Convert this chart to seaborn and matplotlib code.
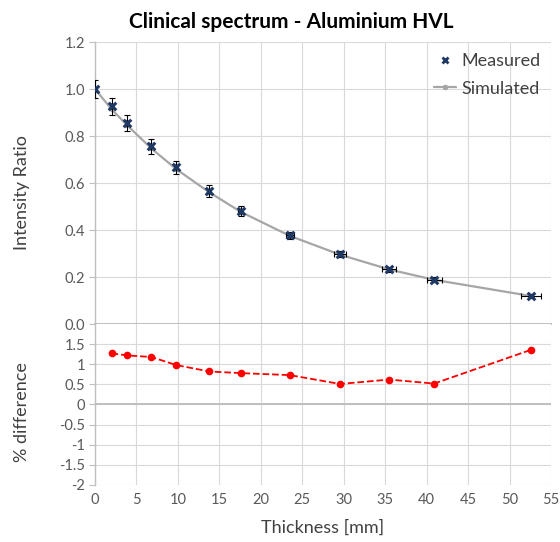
import matplotlib
matplotlib.use("Agg")
import matplotlib.pyplot as plt
import seaborn as sns
import pandas as pd
from matplotlib.lines import Line2D

# data
thickness = [0, 2.0, 3.9, 6.8, 9.8, 13.8, 17.6, 23.5, 29.55, 35.5, 40.9, 52.6]
measured = [1.0, 0.926, 0.855, 0.756, 0.666, 0.565, 0.481, 0.378, 0.297, 0.233, 0.189, 0.121]
meas_yerr = [0.038, 0.037, 0.035, 0.031, 0.027, 0.025, 0.021, 0.015, 0.012, 0.010, 0.009, 0.008]
meas_xerr = [0.1, 0.1, 0.1, 0.15, 0.2, 0.25, 0.3, 0.45, 0.7, 0.85, 0.9, 1.2]
simulated = [1.0, 0.914, 0.845, 0.747, 0.659, 0.560, 0.477, 0.375, 0.295, 0.232, 0.188, 0.119]

diff_thickness = [2.0, 3.9, 6.8, 9.8, 13.8, 17.6, 23.5, 29.55, 35.5, 40.9, 52.6]
pct_diff = [1.27, 1.22, 1.18, 0.98, 0.82, 0.78, 0.73, 0.51, 0.62, 0.52, 1.36]

top_ticks = [0.0, 0.2, 0.4, 0.6, 0.8, 1.0, 1.2]
bottom_ticks = [-2, -1.5, -1, -0.5, 0, 0.5, 1, 1.5]
x_ticks = [0, 5, 10, 15, 20, 25, 30, 35, 40, 45, 50, 55]

df = pd.DataFrame({"thickness": thickness, "measured": measured, "simulated": simulated})
dd = pd.DataFrame({"thickness": diff_thickness, "diff": pct_diff})

sns.set_style("whitegrid")
plt.rcParams["font.family"] = ["Lato", "DejaVu Sans"]

grid_c = "#d9d9d9"
axis_c = "#bfbfbf"
text_c = "#595959"
label_c = "#404040"
navy = "#1f3864"

fig = plt.figure(figsize=(5.6, 5.42), dpi=100)
ax1 = fig.add_axes([0.1696, 0.4022, 0.8144, 0.5203])
ax2 = fig.add_axes([0.1696, 0.1052, 0.8144, 0.2970], sharex=ax1)

# -----------------------------
# top panel: intensity ratio
# -----------------------------
sns.lineplot(data=df, x="thickness", y="simulated", ax=ax1, color="#a6a6a6",
             lw=1.6, marker="o", markersize=4, markeredgewidth=0, zorder=2)
ax1.errorbar(thickness, measured, yerr=meas_yerr, xerr=meas_xerr, fmt="none",
             ecolor="black", elinewidth=0.8, capsize=2, capthick=0.8, zorder=3)
sns.scatterplot(data=df, x="thickness", y="measured", ax=ax1, marker="x",
                color=navy, s=30, linewidth=2.2, zorder=4)

ax1.set_ylim(0, 1.2)
ax1.set_yticks(top_ticks)
ax1.set_yticklabels([f"{t:.1f}" for t in top_ticks])
ax1.set_xlim(0, 55)
ax1.set_xticks(x_ticks)
ax1.tick_params(axis="x", labelbottom=False, length=0)
ax1.set_xlabel("")
ax1.set_ylabel("Intensity Ratio", fontsize=13, color=label_c)
ax1.yaxis.set_label_coords(-0.142, 0.465)

fig.text(0.52, 0.960, "Clinical spectrum - Aluminium HVL", fontsize=15,
         fontweight="bold", color="black", ha="center", va="center")

handles = [
    Line2D([], [], color=navy, marker="x", linestyle="none", markersize=5, markeredgewidth=2),
    Line2D([], [], color="#a6a6a6", marker="o", markersize=4, lw=1.6, markeredgewidth=0),
]
ax1.legend(handles, ["Measured", "Simulated"], loc="upper right", frameon=False,
           fontsize=13, handlelength=1.2, handletextpad=0.3, labelspacing=0.65,
           borderaxespad=0.2, labelcolor=label_c)

# -----------------------------
# bottom panel: % difference
# -----------------------------
sns.lineplot(data=dd, x="thickness", y="diff", ax=ax2, color="#ff0000", lw=1.3,
             linestyle="--", marker="o", markersize=5.5, markeredgewidth=0, zorder=3)
ax2.axhline(0, color=axis_c, lw=1.4, zorder=1)
ax2.set_ylim(-2, 2)
ax2.set_yticks(bottom_ticks)
ax2.set_yticklabels([f"{t:g}" for t in bottom_ticks])
ax2.set_xticks(x_ticks)
ax2.set_xlabel("Thickness [mm]", fontsize=13, color=label_c, labelpad=9)
ax2.set_ylabel("% difference", fontsize=13, color=label_c)
ax2.yaxis.set_label_coords(-0.142, 0.45)
ax2.tick_params(axis="x", length=0, pad=6)

for ax in (ax1, ax2):
    ax.grid(True, color=grid_c, lw=0.8)
    for s in ("top", "right", "bottom"):
        ax.spines[s].set_visible(False)
    ax.spines["left"].set_color(axis_c)
    ax.spines["left"].set_linewidth(1.0)
    ax.tick_params(axis="y", left=True, length=4, color=axis_c, labelsize=10.5,
                   labelcolor=text_c, pad=3)
    ax.tick_params(axis="x", labelsize=10.5, labelcolor=text_c)
ax1.spines["bottom"].set_visible(True)
ax1.spines["bottom"].set_color(axis_c)
ax1.spines["bottom"].set_linewidth(1.4)

fig.savefig("out.png", dpi=100)
